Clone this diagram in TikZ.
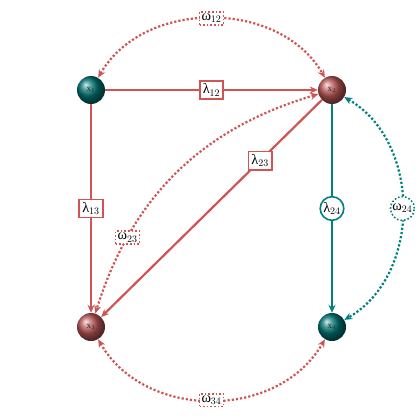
\documentclass[tikz,border=0pt]{standalone}
\usepackage{fontspec}
\newfontfamily\lblfont{Liberation Serif}
\usetikzlibrary{arrows.meta,shapes.geometric}
\definecolor{mred}{RGB}{208,84,84}
\definecolor{mteal}{RGB}{0,128,128}
\definecolor{ballred}{RGB}{185,85,85}
\definecolor{ballteal}{RGB}{0,115,115}
\newcommand{\lab}[2]{{\lblfont #1}$_{#2}$}
\tikzset{
  ballnode/.style={circle,minimum size=28pt,inner sep=0pt,font=\lblfont\small,text=black!85},
  redball/.style={ballnode,ball color=ballred},
  tealball/.style={ballnode,ball color=ballteal},
  redline/.style={draw=mred,line width=2.2pt,-{Stealth[length=8pt,width=7pt]}},
  tealline/.style={draw=mteal,line width=2.2pt,-{Stealth[length=8pt,width=7pt]}},
  reddot/.style={draw=mred,line width=2.2pt,dotted,{Stealth[length=8pt,width=7pt]}-{Stealth[length=8pt,width=7pt]}},
  tealdot/.style={draw=mteal,line width=2.2pt,dotted,{Stealth[length=8pt,width=7pt]}-{Stealth[length=8pt,width=7pt]}},
  lblbox/.style={draw=mred,line width=1.6pt,fill=white,solid,rectangle,inner sep=3pt,font=\Large},
  lbldotbox/.style={draw=mred,line width=1.6pt,fill=white,dotted,rectangle,inner sep=2pt,font=\Large},
  lblcirc/.style={draw=mteal,line width=1.6pt,fill=white,solid,circle,inner sep=0.8pt,font=\Large},
  lbldotcirc/.style={draw=mteal,line width=1.6pt,fill=white,dotted,circle,inner sep=0.8pt,font=\Large},
}
\begin{document}
\begin{tikzpicture}[x=1pt,y=-1pt]
\useasboundingbox (0,0) rectangle (420,420);
\node[tealball] (x1) at (91,90) {\lab{x}{1}};
\node[redball] (x2) at (332,90) {\lab{x}{2}};
\node[redball] (x3) at (91,327) {\lab{x}{3}};
\node[tealball] (x4) at (332,327) {\lab{x}{4}};

\draw[reddot] (x1) to[bend left=60,looseness=1.03] node[lbldotbox]{\lab{ω}{12}} (x2);
\draw[reddot] (x3) to[bend right=60,looseness=1.06] node[lbldotbox]{\lab{ω}{34}} (x4);
\draw[tealdot] (x2) to[bend left=60,looseness=1.03] node[lbldotcirc]{\lab{ω}{24}} (x4);
\draw[reddot] (x2) to[bend right=28] node[pos=0.76,lbldotbox]{\lab{ω}{23}} (x3);

\draw[redline] (x1) -- node[lblbox]{\lab{λ}{12}} (x2);
\draw[redline] (x1) -- node[lblbox]{\lab{λ}{13}} (x3);
\draw[redline] (x2) -- node[pos=0.28,lblbox]{\lab{λ}{23}} (x3);
\draw[tealline] (x2) -- node[lblcirc]{\lab{λ}{24}} (x4);
\end{tikzpicture}
\end{document}
